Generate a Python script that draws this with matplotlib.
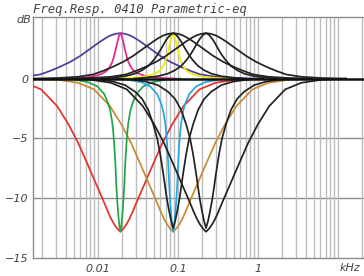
import numpy as np
import matplotlib
matplotlib.use("Agg")
import matplotlib.pyplot as plt
from matplotlib.ticker import LogLocator, NullFormatter, FixedLocator

# ---- data (frequencies in kHz, levels in dB) ----
title = "Freq.Resp. 0410 Parametric-eq"
x_ticks = [0.01, 0.1, 1]
x_tick_labels = ["0.01", "0.1", "1"]
y_ticks = [-15, -10, -5, 0]
y_tick_labels = ["\u221215", "\u221210", "\u22125", "0"]

# curve shapes: offset from centre (decades, symmetric) and level in dB
broad_cut_off = [0, 0.0375, 0.075, 0.1125, 0.15, 0.225, 0.31, 0.40, 0.525, 0.65, 0.79, 0.99, 1.19, 1.44, 1.75]
broad_cut_db = [-12.8, -12.55, -12.2, -11.75, -11.2, -10.0, -8.7, -7.3, -5.4, -3.8, -2.3, -0.9, -0.35, -0.1, 0.0]
narrow_cut_off = [0, 0.0125, 0.025, 0.0375, 0.05, 0.0625, 0.075, 0.0875, 0.1, 0.125, 0.15, 0.2, 0.2875, 0.4, 0.5625, 0.75]
narrow_cut_db = [-12.8, -12.3, -11.4, -10.3, -8.9, -7.0, -5.6, -4.5, -3.7, -2.7, -2.1, -1.3, -0.65, -0.3, -0.1, 0.0]
medium_cut_off = [0, 0.025, 0.05, 0.075, 0.1, 0.125, 0.1625, 0.2, 0.25, 0.3125, 0.3875, 0.475, 0.6, 0.75, 0.9375, 1.125]
medium_cut_db = [-12.5, -11.9, -11.1, -10.2, -9.1, -7.9, -6.3, -5.0, -3.8, -2.6, -1.7, -1.1, -0.55, -0.25, -0.08, 0.0]
broad_boost_off = [0, 0.0625, 0.125, 0.1875, 0.25, 0.3125, 0.375, 0.4375, 0.50, 0.625, 0.75, 0.875, 1.0, 1.19, 1.44, 1.75]
broad_boost_db = [3.8, 3.74, 3.6, 3.37, 3.1, 2.8, 2.5, 2.2, 1.9, 1.4, 1.0, 0.65, 0.35, 0.15, 0.05, 0.0]
narrow_boost_off = [0, 0.0125, 0.025, 0.044, 0.0625, 0.081, 0.1, 0.1375, 0.175, 0.225, 0.3, 0.4, 0.525, 0.69]
narrow_boost_db = [3.8, 3.65, 3.35, 2.85, 2.3, 1.8, 1.4, 0.9, 0.62, 0.42, 0.25, 0.13, 0.05, 0.0]
medium_boost_off = [0, 0.0375, 0.075, 0.1125, 0.15, 0.2, 0.25, 0.3125, 0.3875, 0.475, 0.6, 0.75, 0.9]
medium_boost_db = [3.8, 3.65, 3.35, 2.95, 2.5, 1.95, 1.5, 1.05, 0.7, 0.42, 0.2, 0.08, 0.0]

centres = [0.019, 0.087, 0.224]          # kHz
curve_centre = [0, 0, 0, 0, 1, 1, 1, 1, 1, 1, 2, 2, 2, 2]
curve_shape = ["bb", "nb", "bc", "nc", "bb", "mb", "nb", "bc", "mc", "nc", "bb", "mb", "bc", "mc"]
curve_color = ["#4f3b9e", "#e8268a", "#e8302c", "#1fa64a",
               "#222222", "#222222", "#f2ea00", "#c98a30", "#222222", "#22a8e6",
               "#222222", "#222222", "#222222", "#222222"]
draw_order = [2, 7, 3, 9, 0, 1, 6, 4, 5, 8, 10, 11, 12, 13]

shapes = {
    "bc": (broad_cut_off, broad_cut_db),
    "nc": (narrow_cut_off, narrow_cut_db),
    "mc": (medium_cut_off, medium_cut_db),
    "bb": (broad_boost_off, broad_boost_db),
    "nb": (narrow_boost_off, narrow_boost_db),
    "mb": (medium_boost_off, medium_boost_db),
}

W, H = 364, 276
fig = plt.figure(figsize=(W / 100, H / 100), dpi=100)
ax = fig.add_axes([33 / W, 18 / H, 1 - 33 / W, 241 / H])
ax.set_xscale("log")
ax.set_xlim(0.00154, 21.1)
ax.set_ylim(-15, 5.15)

# grid
ax.xaxis.set_major_locator(FixedLocator(x_ticks))
ax.xaxis.set_minor_locator(LogLocator(base=10, subs=np.arange(1, 10), numticks=50))
ax.xaxis.set_minor_formatter(NullFormatter())
ax.grid(True, which="both", axis="x", color="#bdbdbd", lw=1.0)
for yv in [-5, -10]:
    ax.axhline(yv, color="#8c8c8c", lw=1.0, zorder=1)

for i in draw_order:
    off, db = shapes[curve_shape[i]]
    off = np.array(off)
    fc = centres[curve_centre[i]]
    xs = np.concatenate([fc * 10 ** (-off[::-1]), fc * 10 ** off[1:]])
    ys = np.concatenate([np.array(db)[::-1], np.array(db)[1:]])
    ax.plot(xs, ys, color=curve_color[i], lw=1.25, zorder=3, solid_joinstyle="round")

ax.axhline(0, color="#111111", lw=1.8, zorder=4)

for s in ["left", "bottom", "top"]:
    ax.spines[s].set_color("#8c8c8c")
    ax.spines[s].set_linewidth(1.0)
ax.spines["right"].set_visible(False)

fs = dict(fontsize=8, fontstyle="italic", color="#444444")
ax.set_xticks(x_ticks)
ax.set_xticklabels(x_tick_labels, **fs)
ax.set_yticks(y_ticks)
ax.set_yticklabels(y_tick_labels, **fs)
ax.tick_params(axis="both", which="both", length=0)
ax.tick_params(axis="x", pad=4)
ax.tick_params(axis="y", pad=3)

fig.text(31 / W, 1 - 20 / H, "dB", ha="right", va="center", **fs)
fig.text(1 - 4 / W, 8 / H, "kHz", ha="right", va="center", **fs)
fig.text(33 / W, 1 - 9 / H, title, ha="left", va="center",
         fontsize=8.8, fontstyle="italic", family="DejaVu Sans Mono", color="#444444")

fig.savefig("out.png", dpi=100, facecolor="white")
